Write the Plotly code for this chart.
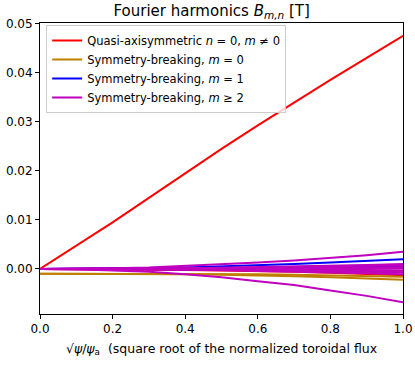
import plotly.graph_objects as go

s = [0.0, 0.1, 0.2, 0.3, 0.4, 0.5, 0.6, 0.7, 0.8, 0.9, 1.0]

# quasi-axisymmetric harmonics (n = 0, m != 0)
qa_series = [
    [0.0, 0.0048, 0.0095, 0.0145, 0.0195, 0.0245, 0.0293, 0.0340, 0.0386, 0.0431, 0.0476],
    [0.0, -0.00002, -0.00006, -0.0001, -0.0002, -0.0003, -0.0004, -0.0006, -0.0008, -0.0010, -0.0013],
    [0.0, -0.00001, -0.00003, -0.00006, -0.0001, -0.00015, -0.0002, -0.0003, -0.0004, -0.0005, -0.0007],
]

# symmetry-breaking, m = 0
sb_m0_series = [
    [-0.0010, -0.0010, -0.0010, -0.0011, -0.0011, -0.0012, -0.0013, -0.0015, -0.0017, -0.0019, -0.0022],
    [-0.0010, -0.0010, -0.0010, -0.0010, -0.0010, -0.0011, -0.0011, -0.0012, -0.0013, -0.0014, -0.0016],
]

# symmetry-breaking, m = 1
sb_m1_series = [
    [0.0, 0.00002, 0.00008, 0.0002, 0.0003, 0.0005, 0.0007, 0.0010, 0.0013, 0.0016, 0.0020],
    [0.0, 0.00001, 0.00003, 0.00006, 0.0001, 0.00015, 0.0002, 0.0003, 0.0004, 0.0005, 0.0006],
]

# symmetry-breaking, m >= 2
sb_m2_series = [
    [0.0, 0.00004, 0.00014, 0.0003, 0.0006, 0.0009, 0.0013, 0.0017, 0.0022, 0.0028, 0.0035],
    [0.0, -0.00007, -0.0003, -0.0006, -0.0011, -0.0017, -0.0025, -0.0033, -0.0044, -0.0055, -0.0068],
    [0.0, 0.00001, 0.00004, 0.0001, 0.00016, 0.00025, 0.00036, 0.0005, 0.00064, 0.0008, 0.0010],
    [0.0, 0.00001, 0.00003, 0.00007, 0.00012, 0.0002, 0.00028, 0.00038, 0.0005, 0.00062, 0.0008],
    [0.0, 0.0, 0.00002, 0.00004, 0.00007, 0.0001, 0.00014, 0.0002, 0.00026, 0.00033, 0.0004],
    [0.0, 0.0, 0.00001, 0.00002, 0.00003, 0.00005, 0.00007, 0.0001, 0.00012, 0.00015, 0.0002],
    [0.0, 0.0, -0.00001, -0.00002, -0.00004, -0.00006, -0.00009, -0.00012, -0.00016, -0.0002, -0.00025],
    [0.0, -0.00001, -0.00003, -0.00006, -0.0001, -0.00016, -0.00024, -0.00033, -0.00044, -0.00056, -0.0007],
    [0.0, -0.00001, -0.00005, -0.0001, -0.00018, -0.00028, -0.0004, -0.00055, -0.0007, -0.0009, -0.0011],
]

groups = [
    ("Quasi-axisymmetric <i>n</i> = 0, <i>m</i> ≠ 0", "#ff0000", qa_series),
    ("Symmetry-breaking, <i>m</i> = 0", "#bf8000", sb_m0_series),
    ("Symmetry-breaking, <i>m</i> = 1", "#0000ff", sb_m1_series),
    ("Symmetry-breaking, <i>m</i> ≥ 2", "#bf00bf", sb_m2_series),
]

fig = go.Figure()
for name, color, series in groups:
    for i, ys in enumerate(series):
        fig.add_trace(go.Scatter(
            x=s, y=ys, mode="lines", name=name, legendgroup=name,
            showlegend=(i == 0), line=dict(color=color, width=2),
        ))

axis_style = dict(
    showgrid=False, zeroline=False, showline=True, mirror=True,
    linecolor="black", linewidth=1, ticks="outside", ticklen=4,
    tickcolor="black", tickfont=dict(size=12, color="black"),
    automargin=False,
)

fig.update_layout(
    width=415, height=369,
    margin=dict(l=40, r=12, t=23, b=55),
    plot_bgcolor="white", paper_bgcolor="white",
    font=dict(family="DejaVu Sans", color="black", size=12),
    title=dict(text="Fourier harmonics <i>B</i><sub><i>m,n</i></sub> [T]",
               x=0.51, xanchor="center", y=1 - 11 / 369, yanchor="middle",
               font=dict(size=15)),
    xaxis=dict(range=[0, 1], tickvals=[0, 0.2, 0.4, 0.6, 0.8, 1.0],
               ticktext=["0.0", "0.2", "0.4", "0.6", "0.8", "1.0"],
               title=dict(text="√<i>ψ</i>/<i>ψ</i><sub>a</sub>  (square root of the normalized toroidal flux",
                          font=dict(size=12.5), standoff=8),
               **axis_style),
    yaxis=dict(range=[-0.0092, 0.0502], tickvals=[0, 0.01, 0.02, 0.03, 0.04, 0.05],
               ticktext=["0.00", "0.01", "0.02", "0.03", "0.04", "0.05"],
               **axis_style),
    legend=dict(x=0.017, y=0.993, xanchor="left", yanchor="top",
                bgcolor="rgba(255,255,255,0.8)", bordercolor="#cccccc",
                borderwidth=1, font=dict(size=11.5), tracegroupgap=0,
                itemwidth=30),
    showlegend=True,
)

# drop the default page margin so the figure sits at the window's corner
fig.write_html("out.html", config={"displayModeBar": False},
               post_script="document.body.style.margin = '0px';")
